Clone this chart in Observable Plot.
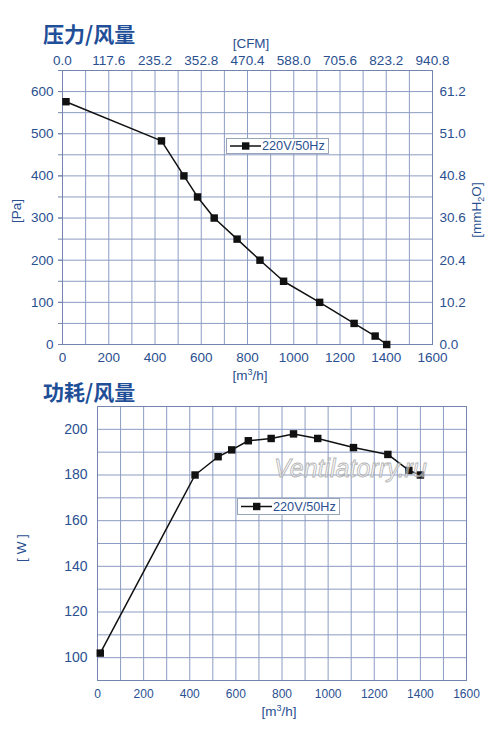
<!DOCTYPE html>
<html>
<head>
<meta charset="utf-8">
<script src="https://cdn.jsdelivr.net/npm/d3@7"></script>
<script src="https://cdn.jsdelivr.net/npm/@observablehq/plot@0.6"></script>
<style>
  html, body { margin: 0; padding: 0; background: #fff; }
  #wrap { position: relative; width: 500px; height: 737px; overflow: hidden; font-family: "Liberation Sans", Arial, sans-serif; color: #2a5090; }
  .abs { position: absolute; white-space: nowrap; }
  .title { font-family: "Noto Sans CJK SC", sans-serif; font-weight: 700; font-size: 21px; color: #1f4f98; line-height: 1; }
  .lbl { font-size: 13.5px; line-height: 1; }
  .rot { transform: translate(-50%, -50%) rotate(-90deg); }
  .ctr { transform: translate(-50%, -50%); }
  .legend { background: #fff; border: 1px solid #98a4b8; box-sizing: border-box; }
  .wm { font-style: italic; font-size: 25px; color: rgba(245,245,245,0.55); -webkit-text-stroke: 0.8px rgba(160,160,160,0.8); line-height: 1; }
  svg { overflow: visible; }
</style>
</head>
<body>
<div id="wrap"></div>
<script>
// ---- data ----
const flowTicks = [0, 200, 400, 600, 800, 1000, 1200, 1400, 1600];
const cfmLabels = ["0.0", "117.6", "235.2", "352.8", "470.4", "588.0", "705.6", "823.2", "940.8"];
const paTicks = [0, 100, 200, 300, 400, 500, 600];
const mmLabels = ["0.0", "10.2", "20.4", "30.6", "40.8", "51.0", "61.2"];
const wTicks = [100, 120, 140, 160, 180, 200];

const pFlow = [15, 428, 525, 584, 656, 755, 854, 956, 1112, 1261, 1352, 1402];
const pressure = [576, 483, 400, 350, 300, 250, 200, 150, 100, 50, 20, 0];

const wFlow = [12, 423, 523, 582, 654, 753, 850, 955, 1110, 1259, 1350, 1400];
const power = [102, 180, 188, 191, 195, 196, 198, 196, 192, 189, 182, 180];

const seriesName = "220V/50Hz";

// ---- styles ----
const BLUE = "#2a5090";
const GRID = "#8c9cc2";
const FRAME = "#7485ad";

const pData = pFlow.map((x, i) => ({x, y: pressure[i]}));
const wData = wFlow.map((x, i) => ({x, y: power[i]}));

const wrap = document.getElementById("wrap");
const plain = d => String(d);

const chart1 = Plot.plot({
  width: 500, height: 340,
  marginTop: 30, marginBottom: 36, marginLeft: 62, marginRight: 68,
  style: {fontFamily: "'Liberation Sans', Arial, sans-serif", fontSize: "13.5px", color: BLUE, background: "transparent"},
  x: {domain: [0, 1600]},
  y: {domain: [0, 650]},
  marks: [
    Plot.gridX(d3.range(0, 1601, 100), {stroke: GRID, strokeOpacity: 1, strokeWidth: 1}),
    Plot.gridY(d3.range(0, 651, 50), {stroke: GRID, strokeOpacity: 1, strokeWidth: 1}),
    Plot.frame({stroke: FRAME}),
    Plot.axisX(flowTicks, {anchor: "bottom", tickSize: 0, tickPadding: 8, label: null, fontSize: 13.5, tickFormat: plain}),
    Plot.axisX(flowTicks, {anchor: "top", tickSize: 0, tickPadding: 6, label: null, fontSize: 13.5,
      tickFormat: d => cfmLabels[flowTicks.indexOf(d)]}),
    Plot.axisY(d3.range(0, 651, 50), {anchor: "left", tickSize: 4, tickFormat: () => "", label: null, stroke: FRAME}),
    Plot.axisY(paTicks, {anchor: "left", tickSize: 4, tickPadding: 5, label: null, fontSize: 13.5, stroke: FRAME, tickFormat: plain}),
    Plot.axisY(paTicks, {anchor: "right", tickSize: 0, tickPadding: 7, label: null, fontSize: 13.5,
      tickFormat: d => mmLabels[paTicks.indexOf(d)]}),
    Plot.line(pData, {x: "x", y: "y", stroke: "#111", strokeWidth: 1.5}),
    Plot.dot(pData, {x: "x", y: "y", symbol: "square", r: 4.2, fill: "#111", stroke: "none"})
  ]
});

const chart2 = Plot.plot({
  width: 500, height: 325,
  marginTop: 11, marginBottom: 40, marginLeft: 97, marginRight: 34,
  style: {fontFamily: "'Liberation Sans', Arial, sans-serif", fontSize: "13.5px", color: BLUE, background: "transparent"},
  x: {domain: [0, 1600]},
  y: {domain: [90, 210]},
  marks: [
    Plot.gridX(d3.range(0, 1601, 100), {stroke: GRID, strokeOpacity: 1, strokeWidth: 1}),
    Plot.gridY(d3.range(90, 211, 10), {stroke: GRID, strokeOpacity: 1, strokeWidth: 1}),
    Plot.frame({stroke: FRAME}),
    Plot.axisX(flowTicks, {anchor: "bottom", tickSize: 0, tickPadding: 9, label: null, fontSize: 12, tickFormat: plain}),
    Plot.axisY(wTicks, {anchor: "left", tickSize: 0, tickPadding: 10, label: null, fontSize: 14, tickFormat: plain}),
    Plot.line(wData, {x: "x", y: "y", stroke: "#111", strokeWidth: 1.5}),
    Plot.dot(wData, {x: "x", y: "y", symbol: "square", r: 4.2, fill: "#111", stroke: "none"})
  ]
});

function place(el, left, top) {
  el.style.position = "absolute";
  el.style.left = left + "px";
  el.style.top = top + "px";
  wrap.appendChild(el);
}
place(chart1, 0, 40);
place(chart2, 0, 395);

function addText(html, cls, left, top) {
  const d = document.createElement("div");
  d.className = "abs " + cls;
  d.innerHTML = html;
  d.style.left = left + "px";
  d.style.top = top + "px";
  wrap.appendChild(d);
  return d;
}

// titles
addText("压力/风量", "title", 43, 23);
addText("功耗/风量", "title", 43, 381);
// axis labels
addText("[CFM]", "lbl ctr", 251, 44);
addText("[m<sup style='font-size:9px;vertical-align:5px'>3</sup>/h]", "lbl ctr", 250, 375);
addText("[m<sup style='font-size:9px;vertical-align:5px'>3</sup>/h]", "lbl ctr", 279, 711);
addText("[Pa]", "lbl rot", 17, 211);
addText("[mmH<sub style='font-size:9px;vertical-align:-3px'>2</sub>O]", "lbl rot", 478, 210);
addText("[ W ]", "lbl rot", 22, 548);

// legends
function legend(left, top, w, h) {
  const d = document.createElement("div");
  d.className = "abs legend";
  d.style.left = left + "px"; d.style.top = top + "px";
  d.style.width = w + "px"; d.style.height = h + "px";
  d.innerHTML = `<svg width="34" height="${h-2}" style="position:absolute;left:2px;top:0">
      <line x1="1" x2="32" y1="${(h-2)/2}" y2="${(h-2)/2}" stroke="#111" stroke-width="1.5"/>
      <rect x="13" y="${(h-2)/2-3.7}" width="7.4" height="7.4" fill="#111"/></svg>
    <span style="position:absolute;left:35px;top:50%;transform:translateY(-50%);font-size:12.7px;color:${BLUE};line-height:1">${seriesName}</span>`;
  wrap.appendChild(d);
}
legend(226, 138, 103, 16);
legend(237, 498, 103, 17);

// watermark
addText("Ventilatorry.ru", "wm", 274, 456);
</script>
</body>
</html>
